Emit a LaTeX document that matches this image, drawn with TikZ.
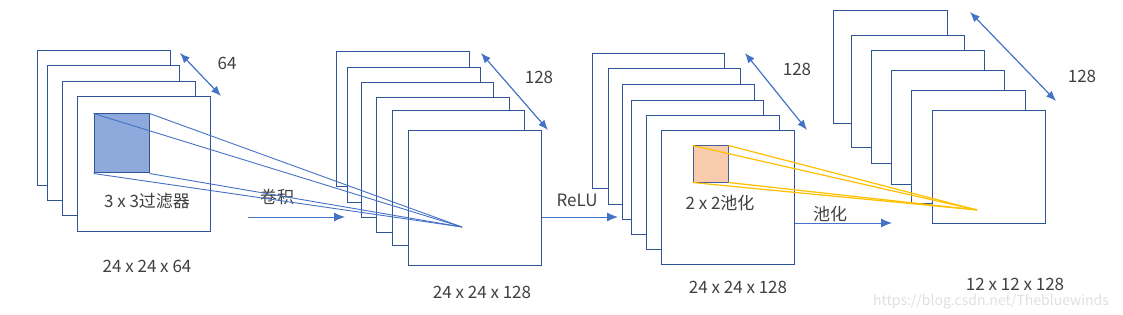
\documentclass[tikz,border=0pt]{standalone}
\usepackage{fontspec}
\setmainfont{Noto Sans CJK SC}
\usetikzlibrary{arrows.meta}
\usetikzlibrary{positioning}

\definecolor{mapblue}{HTML}{2F5597}
\definecolor{linkblue}{HTML}{4472C4}
\definecolor{filtblue}{HTML}{8EA9DB}
\definecolor{poolpeach}{HTML}{F8CBAD}
\definecolor{poolyellow}{HTML}{FFC000}
\definecolor{txtgray}{HTML}{404040}

\tikzset{
  fmap/.style={draw=mapblue, fill=white, line width=1pt},
  lbl/.style={text=txtgray, font=\fontsize{17}{19}\selectfont, inner sep=0pt},
  depth/.style={{Latex[length=10pt,width=8pt]}-{Latex[length=10pt,width=8pt]}, linkblue, line width=1.2pt},
  flow/.style={-{Latex[length=11pt,width=9pt]}, linkblue, line width=1pt},
  ray/.style={linkblue, line width=0.9pt},
  pray/.style={poolyellow, line width=1.2pt}
}

\begin{document}
\begin{tikzpicture}[x=1pt, y=-1pt]
  \useasboundingbox (0,0) rectangle (1123,315);

  % first stack: 24 x 24 x 64
  \draw [fmap] (37,51) rectangle (170,185);
  \draw [fmap] (47,66) rectangle (179,200);
  \draw [fmap] (62,82) rectangle (195,215);
  \draw [fmap] (77,97) rectangle (210,231);
  \node [draw=mapblue, fill=filtblue, line width=1pt, minimum width=55pt, minimum height=59pt, inner sep=0pt] (filt) at (121.5,143.5) {};
  \node [lbl] (filtlbl) at (147,201) {3 x 3过滤器};
  \node [lbl] (size1) at (147,266) {24 x 24 x 64};
  \coordinate (d1a) at (180,53);
  \coordinate (d1b) at (221,96);
  \draw [depth] (d1a) -- (d1b);
  \node [lbl] (depth1) at (227,63) {64};

  % conv arrow
  \coordinate (conva) at (248,217);
  \coordinate (convb) at (345,217);
  \draw [flow] (conva) -- (convb);
  \node [lbl] (convlbl) at (277,197) {卷积};

  % second stack: 24 x 24 x 128
  \draw [fmap] (336,52) rectangle (469,186);
  \draw [fmap] (347,68) rectangle (480,202);
  \draw [fmap] (361,83) rectangle (493,217);
  \draw [fmap] (376,98) rectangle (509,232);
  \draw [fmap] (392,111) rectangle (524,245);
  \node [fmap, minimum width=133pt, minimum height=134pt, inner sep=0pt] (map2) at (474.5,198) {};
  \node [lbl] (size2) at (482,292) {24 x 24 x 128};
  \coordinate (d2a) at (481,53);
  \coordinate (d2b) at (548,130);
  \draw [depth] (d2a) -- (d2b);
  \node [lbl] (depth2) at (539,77) {128};

  % filter rays
  \coordinate (c1) at (462,227);
  \draw [ray] (filt.north west) -- (c1);
  \draw [ray] (filt.north east) -- (c1);
  \draw [ray] (filt.south east) -- (c1);
  \draw [ray] (filt.south west) -- (c1);

  % relu arrow
  \coordinate (relub) at (618,217);
  \draw [flow] (map2.east |- relub) -- (relub);
  \node [lbl] (relulbl) at (577,200) {ReLU};

  % third stack: 24 x 24 x 128 after ReLU
  \draw [fmap] (592,54) rectangle (724,188);
  \draw [fmap] (608,69) rectangle (740,204);
  \draw [fmap] (622,85) rectangle (754,219);
  \draw [fmap] (631,101) rectangle (763,234);
  \draw [fmap] (646,116) rectangle (779,249);
  \node [fmap, minimum width=133pt, minimum height=133pt, inner sep=0pt] (map3) at (727.5,197.5) {};
  \node [draw=mapblue!70!gray, fill=poolpeach, line width=1pt, minimum width=35pt, minimum height=36pt, inner sep=0pt] (pool) at (710.5,164) {};
  \node [lbl] (poollbl) at (720,203) {2 x 2池化};
  \node [lbl] (size3) at (738,287) {24 x 24 x 128};
  \coordinate (d3a) at (745,53);
  \coordinate (d3b) at (807,130);
  \draw [depth] (d3a) -- (d3b);
  \node [lbl] (depth3) at (797,69) {128};

  % pooling arrow
  \coordinate (poolb) at (892,223);
  \draw [flow] (map3.east |- poolb) -- (poolb);
  \node [lbl] (poolarrlbl) at (830,214) {池化};

  % fourth stack: 12 x 12 x 128
  \draw [fmap] (833,11) rectangle (947,124);
  \draw [fmap] (851,36) rectangle (964,148);
  \draw [fmap] (871,51) rectangle (984,164);
  \draw [fmap] (891,71) rectangle (1004,184);
  \draw [fmap] (911,91) rectangle (1025,203);
  \draw [fmap] (932,111) rectangle (1045,223);
  \node [lbl] (size4) at (1015,284) {12 x 12 x 128};
  \coordinate (d4a) at (970,12);
  \coordinate (d4b) at (1056,101);
  \draw [depth] (d4a) -- (d4b);
  \node [lbl] (depth4) at (1082,76) {128};

  % pooling rays
  \coordinate (c2) at (977,210);
  \draw [pray] (pool.north west) -- (c2);
  \draw [pray] (pool.north east) -- (c2);
  \draw [pray] (pool.south east) -- (c2);
  \draw [pray] (pool.south west) -- (c2);

  \node [text=black!12, font=\fontsize{14}{16}\selectfont, inner sep=0pt] (wmark) at (991,302) {https://blog.csdn.net/Thebluewinds};
\end{tikzpicture}
\end{document}
